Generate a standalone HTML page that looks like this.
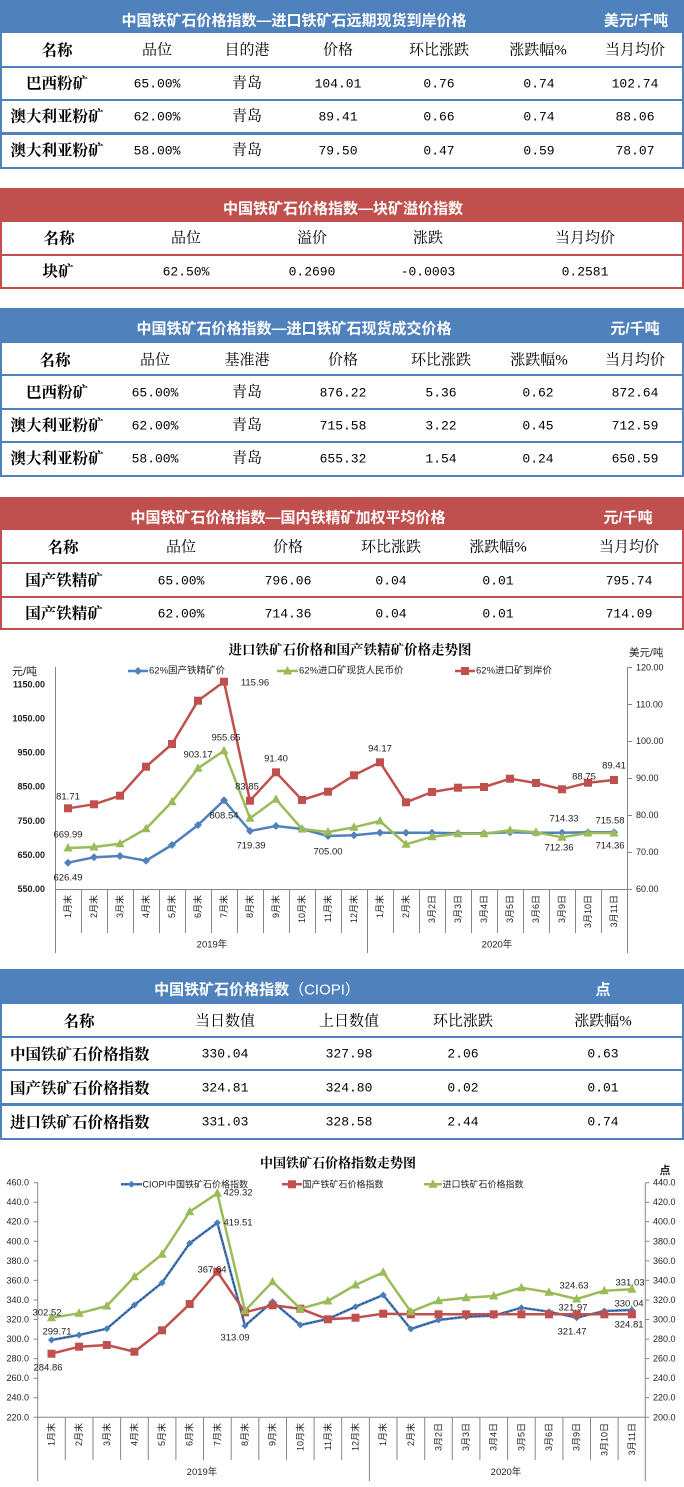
<!DOCTYPE html>
<html><head><meta charset="utf-8">
<style>
html,body{margin:0;padding:0;background:#fff;}
body{width:684px;height:1487px;position:relative;overflow:hidden;}
.bar{position:absolute;left:0;width:684px;}
.blue{background:#4F81BD;}
.red{background:#C0504D;}
.box{position:absolute;left:0;width:684px;box-sizing:border-box;border-left:2px solid;border-right:2px solid;border-bottom:2px solid;}
.bb{border-color:#4F81BD;}
.rb{border-color:#C0504D;}
.hl{position:absolute;left:0;width:684px;height:2px;}
.c{position:absolute;transform:translate(-50%,-50%);white-space:nowrap;line-height:1;}
.l{position:absolute;transform:translate(0,-50%);white-space:nowrap;line-height:1;}
.tt{color:#fff;font-weight:bold;font-size:15px;font-family:"Liberation Sans","Noto Sans CJK SC",sans-serif;}
.hd{font-size:15px;font-family:"Liberation Serif","Noto Serif CJK SC",serif;color:#000;}
.nm{font-size:15.5px;font-weight:bold;font-family:"Liberation Serif","Noto Serif CJK SC",serif;color:#000;}
.nu{font-size:13px;font-family:"Liberation Mono","Noto Sans CJK SC",monospace;color:#000;}
.cj{font-size:15px;font-family:"Liberation Serif","Noto Serif CJK SC",serif;color:#000;}
svg{position:absolute;left:0;top:0;}
svg text{font-family:"Liberation Sans","Noto Sans CJK SC",sans-serif;fill:#222;}
</style></head><body>

<!-- Table 1 -->
<div class="bar blue" style="top:0;height:33px"></div>
<div class="box bb" style="top:33px;height:136px"></div>
<div class="hl blue" style="top:66px"></div>
<div class="hl blue" style="top:99px"></div>
<div class="hl blue" style="top:132px;height:3px"></div>
<div class="c tt" style="left:294px;top:21px">中国铁矿石价格指数—进口铁矿石远期现货到岸价格</div>
<div class="c tt" style="left:636px;top:21px">美元/千吨</div>
<div class="c nm" style="left:57px;top:51px">名称</div>
<div class="c hd" style="left:157px;top:51px">品位</div>
<div class="c hd" style="left:247px;top:51px">目的港</div>
<div class="c hd" style="left:338px;top:51px">价格</div>
<div class="c hd" style="left:439px;top:51px">环比涨跌</div>
<div class="c hd" style="left:538px;top:51px">涨跌幅%</div>
<div class="c hd" style="left:635px;top:51px">当月均价</div>

<div class="c nm" style="left:57px;top:84px">巴西粉矿</div>
<div class="c nu" style="left:157px;top:84px">65.00%</div>
<div class="c cj" style="left:247px;top:84px">青岛</div>
<div class="c nu" style="left:338px;top:84px">104.01</div>
<div class="c nu" style="left:439px;top:84px">0.76</div>
<div class="c nu" style="left:539px;top:84px">0.74</div>
<div class="c nu" style="left:635px;top:84px">102.74</div>

<div class="c nm" style="left:57px;top:117px">澳大利亚粉矿</div>
<div class="c nu" style="left:157px;top:117px">62.00%</div>
<div class="c cj" style="left:247px;top:117px">青岛</div>
<div class="c nu" style="left:338px;top:117px">89.41</div>
<div class="c nu" style="left:439px;top:117px">0.66</div>
<div class="c nu" style="left:539px;top:117px">0.74</div>
<div class="c nu" style="left:635px;top:117px">88.06</div>

<div class="c nm" style="left:57px;top:151px">澳大利亚粉矿</div>
<div class="c nu" style="left:157px;top:151px">58.00%</div>
<div class="c cj" style="left:247px;top:151px">青岛</div>
<div class="c nu" style="left:338px;top:151px">79.50</div>
<div class="c nu" style="left:439px;top:151px">0.47</div>
<div class="c nu" style="left:539px;top:151px">0.59</div>
<div class="c nu" style="left:635px;top:151px">78.07</div>

<!-- Table 2 -->
<div class="bar red" style="top:188px;height:34px"></div>
<div class="box rb" style="top:222px;height:67px"></div>
<div class="hl red" style="top:254px"></div>
<div class="c tt" style="left:343px;top:209px">中国铁矿石价格指数—块矿溢价指数</div>
<div class="c nm" style="left:59px;top:239px">名称</div>
<div class="c hd" style="left:186px;top:239px">品位</div>
<div class="c hd" style="left:312px;top:239px">溢价</div>
<div class="c hd" style="left:428px;top:239px">涨跌</div>
<div class="c hd" style="left:585px;top:239px">当月均价</div>
<div class="c nm" style="left:58px;top:272px">块矿</div>
<div class="c nu" style="left:186px;top:272px">62.50%</div>
<div class="c nu" style="left:312px;top:272px">0.2690</div>
<div class="c nu" style="left:428px;top:272px">-0.0003</div>
<div class="c nu" style="left:585px;top:272px">0.2581</div>

<!-- Table 3 -->
<div class="bar blue" style="top:308px;height:35px"></div>
<div class="box bb" style="top:343px;height:134px"></div>
<div class="hl blue" style="top:374px"></div>
<div class="hl blue" style="top:408px"></div>
<div class="hl blue" style="top:441px"></div>
<div class="c tt" style="left:294px;top:329px">中国铁矿石价格指数—进口铁矿石现货成交价格</div>
<div class="c tt" style="left:635px;top:329px">元/千吨</div>
<div class="c nm" style="left:55px;top:361px">名称</div>
<div class="c hd" style="left:155px;top:361px">品位</div>
<div class="c hd" style="left:247px;top:361px">基准港</div>
<div class="c hd" style="left:343px;top:361px">价格</div>
<div class="c hd" style="left:441px;top:361px">环比涨跌</div>
<div class="c hd" style="left:539px;top:361px">涨跌幅%</div>
<div class="c hd" style="left:635px;top:361px">当月均价</div>

<div class="c nm" style="left:57px;top:393px">巴西粉矿</div>
<div class="c nu" style="left:155px;top:393px">65.00%</div>
<div class="c cj" style="left:247px;top:393px">青岛</div>
<div class="c nu" style="left:343px;top:393px">876.22</div>
<div class="c nu" style="left:441px;top:393px">5.36</div>
<div class="c nu" style="left:538px;top:393px">0.62</div>
<div class="c nu" style="left:635px;top:393px">872.64</div>

<div class="c nm" style="left:57px;top:426px">澳大利亚粉矿</div>
<div class="c nu" style="left:155px;top:426px">62.00%</div>
<div class="c cj" style="left:247px;top:426px">青岛</div>
<div class="c nu" style="left:343px;top:426px">715.58</div>
<div class="c nu" style="left:441px;top:426px">3.22</div>
<div class="c nu" style="left:538px;top:426px">0.45</div>
<div class="c nu" style="left:635px;top:426px">712.59</div>

<div class="c nm" style="left:57px;top:459px">澳大利亚粉矿</div>
<div class="c nu" style="left:155px;top:459px">58.00%</div>
<div class="c cj" style="left:247px;top:459px">青岛</div>
<div class="c nu" style="left:343px;top:459px">655.32</div>
<div class="c nu" style="left:441px;top:459px">1.54</div>
<div class="c nu" style="left:538px;top:459px">0.24</div>
<div class="c nu" style="left:635px;top:459px">650.59</div>

<!-- Table 4 -->
<div class="bar red" style="top:497px;height:33px"></div>
<div class="box rb" style="top:530px;height:100px"></div>
<div class="hl red" style="top:562px"></div>
<div class="hl red" style="top:596px"></div>
<div class="c tt" style="left:288px;top:518px">中国铁矿石价格指数—国内铁精矿加权平均价格</div>
<div class="c tt" style="left:628px;top:518px">元/千吨</div>
<div class="c nm" style="left:63px;top:548px">名称</div>
<div class="c hd" style="left:181px;top:548px">品位</div>
<div class="c hd" style="left:288px;top:548px">价格</div>
<div class="c hd" style="left:391px;top:548px">环比涨跌</div>
<div class="c hd" style="left:498px;top:548px">涨跌幅%</div>
<div class="c hd" style="left:629px;top:548px">当月均价</div>

<div class="c nm" style="left:64px;top:581px">国产铁精矿</div>
<div class="c nu" style="left:181px;top:581px">65.00%</div>
<div class="c nu" style="left:288px;top:581px">796.06</div>
<div class="c nu" style="left:391px;top:581px">0.04</div>
<div class="c nu" style="left:498px;top:581px">0.01</div>
<div class="c nu" style="left:629px;top:581px">795.74</div>

<div class="c nm" style="left:64px;top:614px">国产铁精矿</div>
<div class="c nu" style="left:181px;top:614px">62.00%</div>
<div class="c nu" style="left:288px;top:614px">714.36</div>
<div class="c nu" style="left:391px;top:614px">0.04</div>
<div class="c nu" style="left:498px;top:614px">0.01</div>
<div class="c nu" style="left:629px;top:614px">714.09</div>

<!-- Table 5 -->
<div class="bar blue" style="top:969px;height:35px"></div>
<div class="box bb" style="top:1004px;height:136px"></div>
<div class="hl blue" style="top:1036px"></div>
<div class="hl blue" style="top:1069px"></div>
<div class="hl blue" style="top:1103px;height:3px"></div>
<div class="c tt" style="left:257px;top:990px">中国铁矿石价格指数<span style="font-weight:normal">（CIOPI）</span></div>
<div class="c tt" style="left:603px;top:990px">点</div>
<div class="c nm" style="left:79px;top:1022px">名称</div>
<div class="c hd" style="left:225px;top:1022px">当日数值</div>
<div class="c hd" style="left:349px;top:1022px">上日数值</div>
<div class="c hd" style="left:463px;top:1022px">环比涨跌</div>
<div class="c hd" style="left:603px;top:1022px">涨跌幅%</div>

<div class="l nm" style="left:10px;top:1055px">中国铁矿石价格指数</div>
<div class="c nu" style="left:225px;top:1054px">330.04</div>
<div class="c nu" style="left:349px;top:1054px">327.98</div>
<div class="c nu" style="left:463px;top:1054px">2.06</div>
<div class="c nu" style="left:603px;top:1054px">0.63</div>

<div class="l nm" style="left:10px;top:1089px">国产铁矿石价格指数</div>
<div class="c nu" style="left:225px;top:1088px">324.81</div>
<div class="c nu" style="left:349px;top:1088px">324.80</div>
<div class="c nu" style="left:463px;top:1088px">0.02</div>
<div class="c nu" style="left:603px;top:1088px">0.01</div>

<div class="l nm" style="left:10px;top:1123px">进口铁矿石价格指数</div>
<div class="c nu" style="left:225px;top:1122px">331.03</div>
<div class="c nu" style="left:349px;top:1122px">328.58</div>
<div class="c nu" style="left:463px;top:1122px">2.44</div>
<div class="c nu" style="left:603px;top:1122px">0.74</div>

<svg width="684" height="1487" viewBox="0 0 684 1487" xmlns="http://www.w3.org/2000/svg">
<defs>
<path id="dm" d="M0,-4L4,0L0,4L-4,0Z" fill="#4F81BD"/>
<path id="dm2" d="M0,-3.5L3.5,0L0,3.5L-3.5,0Z" fill="#4A7EBB"/>
<path id="tr" d="M0,-5L4.6,3.5L-4.6,3.5Z" fill="#9BBB59"/>
<rect id="sq" x="-4" y="-4" width="8" height="8" fill="#C0504D"/>
</defs>

<!-- ============ CHART 1 ============ -->
<text x="350" y="650" font-size="13.5" font-weight="bold" text-anchor="middle" dominant-baseline="central" style="font-family:'Liberation Serif','Noto Serif CJK SC',serif;fill:#000">进口铁矿石价格和国产铁精矿价格走势图</text>
<text x="12" y="672" font-size="11" dominant-baseline="central">元/吨</text>
<text x="629" y="653" font-size="10.5" dominant-baseline="central">美元/吨</text>

<!-- legend -->
<line x1="128" y1="671" x2="148" y2="671" stroke="#4F81BD" stroke-width="2.5"/>
<use href="#dm" x="138" y="671"/>
<text x="149" y="671" font-size="9.5" dominant-baseline="central">62%国产铁精矿价</text>
<line x1="277" y1="671" x2="298" y2="671" stroke="#9BBB59" stroke-width="2.5"/>
<use href="#tr" x="287.5" y="671"/>
<text x="299" y="671" font-size="9.5" dominant-baseline="central">62%进口矿现货人民币价</text>
<line x1="455" y1="671" x2="475" y2="671" stroke="#C0504D" stroke-width="2.5"/>
<use href="#sq" x="465" y="671"/>
<text x="476" y="671" font-size="9.5" dominant-baseline="central">62%进口矿到岸价</text>

<!-- axes -->
<g stroke="#868686" stroke-width="1" fill="none">
<line x1="55.5" y1="667" x2="55.5" y2="953"/>
<line x1="627.5" y1="667" x2="627.5" y2="953"/>
<line x1="55" y1="889.5" x2="628" y2="889.5"/>
<path d="M81.5,889V933M107.5,889V933M133.5,889V933M159.5,889V933M185.5,889V933M211.5,889V933M237.5,889V933M263.5,889V933M289.5,889V933M315.5,889V933M341.5,889V933M367.5,889V953M393.5,889V933M419.5,889V933M445.5,889V933M471.5,889V933M497.5,889V933M523.5,889V933M549.5,889V933M575.5,889V933M601.5,889V933"/>
<path d="M627,667.5H632M627,704.5H632M627,741.5H632M627,778.5H632M627,815.5H632M627,852.5H632M627,889.5H632"/>
</g>

<!-- left labels -->
<g font-size="9" font-weight="bold" text-anchor="end" dominant-baseline="central">
<text x="45" y="684.4">1150.00</text>
<text x="45" y="718.5">1050.00</text>
<text x="45" y="752.6">950.00</text>
<text x="45" y="786.7">850.00</text>
<text x="45" y="820.8">750.00</text>
<text x="45" y="854.9">650.00</text>
<text x="45" y="889">550.00</text>
</g>
<!-- right labels -->
<g font-size="9" dominant-baseline="central">
<text x="636" y="667.3">120.00</text>
<text x="636" y="704.3">110.00</text>
<text x="636" y="741.2">100.00</text>
<text x="636" y="778.2">90.00</text>
<text x="636" y="815.1">80.00</text>
<text x="636" y="852.1">70.00</text>
<text x="636" y="889">60.00</text>
</g>

<!-- category labels -->
<g font-size="9" text-anchor="end" dominant-baseline="central">
<text transform="translate(68,895) rotate(-90)">1月末</text>
<text transform="translate(94,895) rotate(-90)">2月末</text>
<text transform="translate(120,895) rotate(-90)">3月末</text>
<text transform="translate(146,895) rotate(-90)">4月末</text>
<text transform="translate(172,895) rotate(-90)">5月末</text>
<text transform="translate(198,895) rotate(-90)">6月末</text>
<text transform="translate(224,895) rotate(-90)">7月末</text>
<text transform="translate(250,895) rotate(-90)">8月末</text>
<text transform="translate(276,895) rotate(-90)">9月末</text>
<text transform="translate(302,895) rotate(-90)">10月末</text>
<text transform="translate(328,895) rotate(-90)">11月末</text>
<text transform="translate(354,895) rotate(-90)">12月末</text>
<text transform="translate(380,895) rotate(-90)">1月末</text>
<text transform="translate(406,895) rotate(-90)">2月末</text>
<text transform="translate(432,895) rotate(-90)">3月2日</text>
<text transform="translate(458,895) rotate(-90)">3月3日</text>
<text transform="translate(484,895) rotate(-90)">3月4日</text>
<text transform="translate(510,895) rotate(-90)">3月5日</text>
<text transform="translate(536,895) rotate(-90)">3月6日</text>
<text transform="translate(562,895) rotate(-90)">3月9日</text>
<text transform="translate(588,895) rotate(-90)">3月10日</text>
<text transform="translate(614,895) rotate(-90)">3月11日</text>
</g>
<text x="212" y="945" font-size="9.5" text-anchor="middle" dominant-baseline="central">2019年</text>
<text x="497" y="945" font-size="9.5" text-anchor="middle" dominant-baseline="central">2020年</text>

<!-- series -->
<polyline fill="none" stroke="#4F81BD" stroke-width="2.5" stroke-linejoin="round" points="68,862.7 94,857.3 120,856 146,860.7 172,845 198,825 224,800.3 250,831 276,826 302,829 328,836 354,835.3 380,832.7 406,832.7 432,832.7 458,833.3 484,833.3 510,832.3 536,832.7 562,832.7 588,832.3 614,832.3"/>
<g>
<use href="#dm" x="68" y="862.7"/><use href="#dm" x="94" y="857.3"/><use href="#dm" x="120" y="856"/><use href="#dm" x="146" y="860.7"/><use href="#dm" x="172" y="845"/><use href="#dm" x="198" y="825"/><use href="#dm" x="224" y="800.3"/><use href="#dm" x="250" y="831"/><use href="#dm" x="276" y="826"/><use href="#dm" x="302" y="829"/><use href="#dm" x="328" y="836"/><use href="#dm" x="354" y="835.3"/><use href="#dm" x="380" y="832.7"/><use href="#dm" x="406" y="832.7"/><use href="#dm" x="432" y="832.7"/><use href="#dm" x="458" y="833.3"/><use href="#dm" x="484" y="833.3"/><use href="#dm" x="510" y="832.3"/><use href="#dm" x="536" y="832.7"/><use href="#dm" x="562" y="832.7"/><use href="#dm" x="588" y="832.3"/><use href="#dm" x="614" y="832.3"/>
</g>
<polyline fill="none" stroke="#9BBB59" stroke-width="2.5" stroke-linejoin="round" points="68,848 94,847 120,843.7 146,828.7 172,801.7 198,768.3 224,750.7 250,818.3 276,799.3 302,829 328,832 354,827.3 380,821 406,844.3 432,836.7 458,833.7 484,833.7 510,830.3 536,832.3 562,837.3 588,833 614,833"/>
<g>
<use href="#tr" x="68" y="848"/><use href="#tr" x="94" y="847"/><use href="#tr" x="120" y="843.7"/><use href="#tr" x="146" y="828.7"/><use href="#tr" x="172" y="801.7"/><use href="#tr" x="198" y="768.3"/><use href="#tr" x="224" y="750.7"/><use href="#tr" x="250" y="818.3"/><use href="#tr" x="276" y="799.3"/><use href="#tr" x="302" y="829"/><use href="#tr" x="328" y="832"/><use href="#tr" x="354" y="827.3"/><use href="#tr" x="380" y="821"/><use href="#tr" x="406" y="844.3"/><use href="#tr" x="432" y="836.7"/><use href="#tr" x="458" y="833.7"/><use href="#tr" x="484" y="833.7"/><use href="#tr" x="510" y="830.3"/><use href="#tr" x="536" y="832.3"/><use href="#tr" x="562" y="837.3"/><use href="#tr" x="588" y="833"/><use href="#tr" x="614" y="833"/>
</g>
<polyline fill="none" stroke="#C0504D" stroke-width="2.5" stroke-linejoin="round" points="68,808.3 94,804.3 120,795.7 146,766.7 172,744 198,700.7 224,681.7 250,800.7 276,772.3 302,800 328,791.7 354,775.3 380,762.3 406,802.3 432,792 458,787.7 484,787 510,778.7 536,783 562,789.3 588,782.7 614,780"/>
<g>
<use href="#sq" x="68" y="808.3"/><use href="#sq" x="94" y="804.3"/><use href="#sq" x="120" y="795.7"/><use href="#sq" x="146" y="766.7"/><use href="#sq" x="172" y="744"/><use href="#sq" x="198" y="700.7"/><use href="#sq" x="224" y="681.7"/><use href="#sq" x="250" y="800.7"/><use href="#sq" x="276" y="772.3"/><use href="#sq" x="302" y="800"/><use href="#sq" x="328" y="791.7"/><use href="#sq" x="354" y="775.3"/><use href="#sq" x="380" y="762.3"/><use href="#sq" x="406" y="802.3"/><use href="#sq" x="432" y="792"/><use href="#sq" x="458" y="787.7"/><use href="#sq" x="484" y="787"/><use href="#sq" x="510" y="778.7"/><use href="#sq" x="536" y="783"/><use href="#sq" x="562" y="789.3"/><use href="#sq" x="588" y="782.7"/><use href="#sq" x="614" y="780"/>
</g>

<!-- data labels chart 1 -->
<g font-size="9.5" text-anchor="middle" dominant-baseline="central">
<text x="68" y="797">81.71</text>
<text x="68" y="835">669.99</text>
<text x="68" y="878">626.49</text>
<text x="198" y="755">903.17</text>
<text x="226" y="738">955.65</text>
<text x="255" y="683">115.96</text>
<text x="224" y="816">808.54</text>
<text x="247" y="787">83.85</text>
<text x="251" y="846">719.39</text>
<text x="276" y="759">91.40</text>
<text x="328" y="852">705.00</text>
<text x="380" y="749">94.17</text>
<text x="564" y="819">714.33</text>
<text x="559" y="848">712.36</text>
<text x="584" y="777">88.75</text>
<text x="614" y="766">89.41</text>
<text x="610" y="821">715.58</text>
<text x="610" y="846">714.36</text>
</g>

<!-- ============ CHART 2 ============ -->
<text x="338" y="1163" font-size="13" font-weight="bold" text-anchor="middle" dominant-baseline="central" style="font-family:'Liberation Serif','Noto Serif CJK SC',serif;fill:#000">中国铁矿石价格指数走势图</text>
<text x="665" y="1171" font-size="11" font-weight="bold" text-anchor="middle" dominant-baseline="central">点</text>

<!-- legend -->
<line x1="121" y1="1184.3" x2="142" y2="1184.3" stroke="#4A7EBB" stroke-width="2.5"/>
<line x1="121" y1="1184.3" x2="142" y2="1184.3" stroke="#1F3F7A" stroke-width="1" stroke-dasharray="2,2"/>
<use href="#dm2" x="131.5" y="1184.3"/>
<text x="142.5" y="1184.3" font-size="9" dominant-baseline="central">CIOPI中国铁矿石价格指数</text>
<line x1="282" y1="1184.3" x2="302" y2="1184.3" stroke="#C0504D" stroke-width="2.5"/>
<use href="#sq" x="292" y="1184.3"/>
<text x="302.5" y="1184.3" font-size="9" dominant-baseline="central">国产铁矿石价格指数</text>
<line x1="424" y1="1184.3" x2="442" y2="1184.3" stroke="#9BBB59" stroke-width="2.5"/>
<use href="#tr" x="433" y="1184.3"/>
<text x="442.5" y="1184.3" font-size="9" dominant-baseline="central">进口铁矿石价格指数</text>

<!-- axes -->
<g stroke="#868686" stroke-width="1" fill="none">
<line x1="37.7" y1="1182.7" x2="37.7" y2="1481"/>
<line x1="645.3" y1="1182.7" x2="645.3" y2="1481"/>
<line x1="37.7" y1="1417.3" x2="645.3" y2="1417.3"/>
<path d="M33.7,1417.3H37.7M33.7,1397.7H37.7M33.7,1378.2H37.7M33.7,1358.6H37.7M33.7,1339.1H37.7M33.7,1319.5H37.7M33.7,1300H37.7M33.7,1280.4H37.7M33.7,1260.9H37.7M33.7,1241.3H37.7M33.7,1221.7H37.7M33.7,1202.2H37.7M33.7,1182.7H37.7"/>
<path d="M645.3,1417.3H649.3M645.3,1397.7H649.3M645.3,1378.2H649.3M645.3,1358.6H649.3M645.3,1339.1H649.3M645.3,1319.5H649.3M645.3,1300H649.3M645.3,1280.4H649.3M645.3,1260.9H649.3M645.3,1241.3H649.3M645.3,1221.7H649.3M645.3,1202.2H649.3M645.3,1182.7H649.3"/>
<path d="M65.3,1417V1460M93,1417V1460M120.6,1417V1460M148.3,1417V1460M175.9,1417V1460M203.5,1417V1460M231.2,1417V1460M258.8,1417V1460M286.5,1417V1460M314.1,1417V1460M341.7,1417V1460M369.4,1417V1481M397,1417V1460M424.7,1417V1460M452.3,1417V1460M479.9,1417V1460M507.6,1417V1460M535.2,1417V1460M562.9,1417V1460M590.5,1417V1460M618.1,1417V1460"/>
</g>

<g font-size="9" text-anchor="end" dominant-baseline="central">
<text x="29" y="1182.7">460.0</text>
<text x="29" y="1202.2">440.0</text>
<text x="29" y="1221.7">420.0</text>
<text x="29" y="1241.3">400.0</text>
<text x="29" y="1260.9">380.0</text>
<text x="29" y="1280.4">360.0</text>
<text x="29" y="1300">340.0</text>
<text x="29" y="1319.5">320.0</text>
<text x="29" y="1339.1">300.0</text>
<text x="29" y="1358.6">280.0</text>
<text x="29" y="1378.2">260.0</text>
<text x="29" y="1397.7">240.0</text>
<text x="29" y="1417.3">220.0</text>
</g>
<g font-size="9" dominant-baseline="central">
<text x="653" y="1182.7">440.0</text>
<text x="653" y="1202.2">420.0</text>
<text x="653" y="1221.7">400.0</text>
<text x="653" y="1241.3">380.0</text>
<text x="653" y="1260.9">360.0</text>
<text x="653" y="1280.4">340.0</text>
<text x="653" y="1300">320.0</text>
<text x="653" y="1319.5">300.0</text>
<text x="653" y="1339.1">280.0</text>
<text x="653" y="1358.6">260.0</text>
<text x="653" y="1378.2">240.0</text>
<text x="653" y="1397.7">220.0</text>
<text x="653" y="1417.3">200.0</text>
</g>

<g font-size="9" text-anchor="end" dominant-baseline="central">
<text transform="translate(51.5,1423) rotate(-90)">1月末</text>
<text transform="translate(79.1,1423) rotate(-90)">2月末</text>
<text transform="translate(106.8,1423) rotate(-90)">3月末</text>
<text transform="translate(134.4,1423) rotate(-90)">4月末</text>
<text transform="translate(162.1,1423) rotate(-90)">5月末</text>
<text transform="translate(189.7,1423) rotate(-90)">6月末</text>
<text transform="translate(217.3,1423) rotate(-90)">7月末</text>
<text transform="translate(245,1423) rotate(-90)">8月末</text>
<text transform="translate(272.6,1423) rotate(-90)">9月末</text>
<text transform="translate(300.3,1423) rotate(-90)">10月末</text>
<text transform="translate(327.9,1423) rotate(-90)">11月末</text>
<text transform="translate(355.5,1423) rotate(-90)">12月末</text>
<text transform="translate(383.2,1423) rotate(-90)">1月末</text>
<text transform="translate(410.8,1423) rotate(-90)">2月末</text>
<text transform="translate(438.5,1423) rotate(-90)">3月2日</text>
<text transform="translate(466.1,1423) rotate(-90)">3月3日</text>
<text transform="translate(493.7,1423) rotate(-90)">3月4日</text>
<text transform="translate(521.4,1423) rotate(-90)">3月5日</text>
<text transform="translate(549,1423) rotate(-90)">3月6日</text>
<text transform="translate(576.7,1423) rotate(-90)">3月9日</text>
<text transform="translate(604.3,1423) rotate(-90)">3月10日</text>
<text transform="translate(631.9,1423) rotate(-90)">3月11日</text>
</g>
<text x="202" y="1472.7" font-size="9.5" text-anchor="middle" dominant-baseline="central">2019年</text>
<text x="506" y="1472.7" font-size="9.5" text-anchor="middle" dominant-baseline="central">2020年</text>

<!-- series chart 2 -->
<polyline fill="none" stroke="#4A7EBB" stroke-width="2.5" stroke-linejoin="round" points="51.5,1340 79.1,1335 106.8,1328.7 134.4,1305 162.1,1282.7 189.7,1243.3 217.3,1222.7 245,1325.7 272.6,1301.7 300.3,1325 327.9,1319 355.5,1306.7 383.2,1295 410.8,1329 438.5,1320 466.1,1316.7 493.7,1315.7 521.4,1307.7 549,1311.7 576.7,1317.7 604.3,1311 631.9,1310"/>
<polyline fill="none" stroke="#1F3F7A" stroke-width="1" stroke-dasharray="2,2" points="51.5,1340 79.1,1335 106.8,1328.7 134.4,1305 162.1,1282.7 189.7,1243.3 217.3,1222.7 245,1325.7 272.6,1301.7 300.3,1325 327.9,1319 355.5,1306.7 383.2,1295 410.8,1329 438.5,1320 466.1,1316.7 493.7,1315.7 521.4,1307.7 549,1311.7 576.7,1317.7 604.3,1311 631.9,1310"/>
<g>
<use href="#dm2" x="51.5" y="1340"/><use href="#dm2" x="79.1" y="1335"/><use href="#dm2" x="106.8" y="1328.7"/><use href="#dm2" x="134.4" y="1305"/><use href="#dm2" x="162.1" y="1282.7"/><use href="#dm2" x="189.7" y="1243.3"/><use href="#dm2" x="217.3" y="1222.7"/><use href="#dm2" x="245" y="1325.7"/><use href="#dm2" x="272.6" y="1301.7"/><use href="#dm2" x="300.3" y="1325"/><use href="#dm2" x="327.9" y="1319"/><use href="#dm2" x="355.5" y="1306.7"/><use href="#dm2" x="383.2" y="1295"/><use href="#dm2" x="410.8" y="1329"/><use href="#dm2" x="438.5" y="1320"/><use href="#dm2" x="466.1" y="1316.7"/><use href="#dm2" x="493.7" y="1315.7"/><use href="#dm2" x="521.4" y="1307.7"/><use href="#dm2" x="549" y="1311.7"/><use href="#dm2" x="576.7" y="1317.7"/><use href="#dm2" x="604.3" y="1311"/><use href="#dm2" x="631.9" y="1310"/>
</g>
<polyline fill="none" stroke="#C0504D" stroke-width="2.5" stroke-linejoin="round" points="51.5,1353.7 79.1,1346.7 106.8,1345 134.4,1351.7 162.1,1330.3 189.7,1304 217.3,1271.7 245,1312.3 272.6,1305.3 300.3,1308.7 327.9,1319.3 355.5,1317.7 383.2,1313.7 410.8,1314.3 438.5,1314.3 466.1,1314.3 493.7,1314.3 521.4,1314.3 549,1314.3 576.7,1314.3 604.3,1314.3 631.9,1314.3"/>
<g>
<use href="#sq" x="51.5" y="1353.7"/><use href="#sq" x="79.1" y="1346.7"/><use href="#sq" x="106.8" y="1345"/><use href="#sq" x="134.4" y="1351.7"/><use href="#sq" x="162.1" y="1330.3"/><use href="#sq" x="189.7" y="1304"/><use href="#sq" x="217.3" y="1271.7"/><use href="#sq" x="245" y="1312.3"/><use href="#sq" x="272.6" y="1305.3"/><use href="#sq" x="300.3" y="1308.7"/><use href="#sq" x="327.9" y="1319.3"/><use href="#sq" x="355.5" y="1317.7"/><use href="#sq" x="383.2" y="1313.7"/><use href="#sq" x="410.8" y="1314.3"/><use href="#sq" x="438.5" y="1314.3"/><use href="#sq" x="466.1" y="1314.3"/><use href="#sq" x="493.7" y="1314.3"/><use href="#sq" x="521.4" y="1314.3"/><use href="#sq" x="549" y="1314.3"/><use href="#sq" x="576.7" y="1314.3"/><use href="#sq" x="604.3" y="1314.3"/><use href="#sq" x="631.9" y="1314.3"/>
</g>
<polyline fill="none" stroke="#9BBB59" stroke-width="2.5" stroke-linejoin="round" points="51.5,1317.7 79.1,1313.3 106.8,1306 134.4,1276.7 162.1,1254.3 189.7,1211.7 217.3,1193.3 245,1310.7 272.6,1281.7 300.3,1308.7 327.9,1301 355.5,1285 383.2,1272.3 410.8,1311.7 438.5,1300.7 466.1,1297.7 493.7,1296 521.4,1287.7 549,1292.3 576.7,1299 604.3,1290.7 631.9,1289.3"/>
<g>
<use href="#tr" x="51.5" y="1317.7"/><use href="#tr" x="79.1" y="1313.3"/><use href="#tr" x="106.8" y="1306"/><use href="#tr" x="134.4" y="1276.7"/><use href="#tr" x="162.1" y="1254.3"/><use href="#tr" x="189.7" y="1211.7"/><use href="#tr" x="217.3" y="1193.3"/><use href="#tr" x="245" y="1310.7"/><use href="#tr" x="272.6" y="1281.7"/><use href="#tr" x="300.3" y="1308.7"/><use href="#tr" x="327.9" y="1301"/><use href="#tr" x="355.5" y="1285"/><use href="#tr" x="383.2" y="1272.3"/><use href="#tr" x="410.8" y="1311.7"/><use href="#tr" x="438.5" y="1300.7"/><use href="#tr" x="466.1" y="1297.7"/><use href="#tr" x="493.7" y="1296"/><use href="#tr" x="521.4" y="1287.7"/><use href="#tr" x="549" y="1292.3"/><use href="#tr" x="576.7" y="1299"/><use href="#tr" x="604.3" y="1290.7"/><use href="#tr" x="631.9" y="1289.3"/>
</g>

<!-- data labels chart 2 -->
<g font-size="9.5" text-anchor="middle" dominant-baseline="central">
<text x="47" y="1313">302.52</text>
<text x="57" y="1332">299.71</text>
<text x="48" y="1368">284.86</text>
<text x="238" y="1193">429.32</text>
<text x="238" y="1223">419.51</text>
<text x="212" y="1270">367.64</text>
<text x="235" y="1338">313.09</text>
<text x="574" y="1286">324.63</text>
<text x="573" y="1308">321.97</text>
<text x="572" y="1332">321.47</text>
<text x="630" y="1283">331.03</text>
<text x="629" y="1304">330.04</text>
<text x="629" y="1325">324.81</text>
</g>
</svg>
</body></html>
